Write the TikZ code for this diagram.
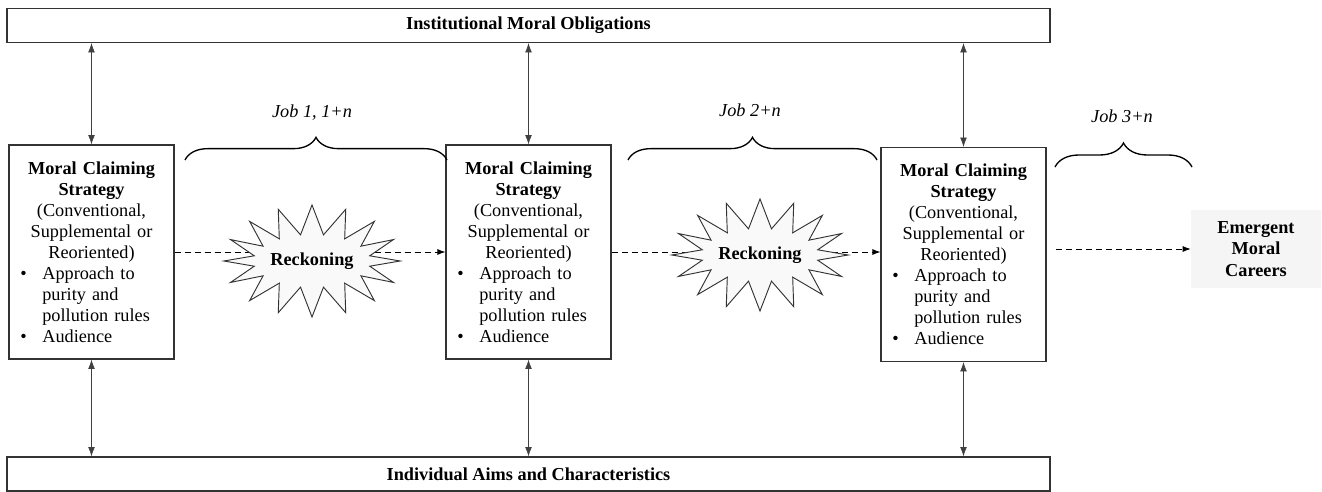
\documentclass[tikz,border=0pt]{standalone}
\usepackage{fontspec}
\setmainfont{Liberation Serif}
\usetikzlibrary{shapes.symbols,decorations.pathreplacing,arrows.meta,calc}
\newcommand\fs{\fontsize{13.7}{15.75}\selectfont}
\newcommand\bitem[1]{\makebox[\linewidth][l]{\makebox[25pt][l]{\hspace{8.5pt}\textbullet}#1}}
\newcommand\iitem[1]{\makebox[\linewidth][l]{\hspace{25pt}#1}}
\newcommand\mcstext{\textbf{Moral Claiming}\\\textbf{Strategy}\\(Conventional,\\Supplemental or\\Reoriented)\\\bitem{Approach to}\\\iitem{purity and}\\\iitem{pollution rules}\\\bitem{Audience}}
\tikzset{
  bar/.style={draw=black!80, line width=0.8pt, minimum width={1043*0.75pt}, minimum height={34*0.75pt}, font=\fs\bfseries, inner sep=0pt},
  mcs/.style={draw=black!80, line width=0.8pt, minimum width={165*0.75pt}, minimum height={214*0.75pt}, text width={165*0.75pt}, inner sep=0pt, align=center, font=\fs},
  burst/.style={shape=starburst, draw=black!80, fill=gray!5, line width=0.7pt, starburst points=16, starburst point height=22pt, random starburst=0, font=\fs\bfseries, minimum width=122pt, minimum height=84pt, inner sep=0pt},
  emerg/.style={fill=gray!8, minimum width={130*0.75pt}, minimum height={78*0.75pt}, align=center, font=\fontsize{13.7}{16.3}\selectfont\bfseries, inner sep=0pt},
  biarrow/.style={{Latex[length=7pt,width=5pt]}-{Latex[length=7pt,width=5pt]}, draw=black!75, line width=0.5pt},
  dasharrow/.style={-{Latex[length=6pt,width=4.5pt]}, dash pattern=on 4.5pt off 3pt, line width=0.7pt},
  jobbrace/.style={decorate, decoration={brace, amplitude=#1}, line width=1pt},
  joblabel/.style={font=\fs\itshape}
}
\begin{document}
\begin{tikzpicture}[x=0.75pt,y=-0.75pt]
\useasboundingbox (0,0) rectangle (1322,492);
% bars
\node[bar] (top) at (528.5,25.5) {Institutional Moral Obligations};
\node[bar] (bot) at (528.5,474) {Individual Aims and Characteristics};
% strategy boxes
\node[mcs] (b1) at (91.5,252) {\mcstext};
\node[mcs] (b2) at (528.5,252) {\mcstext};
\node[mcs] (b3) at (963.5,254.5) {\mcstext};
% emergent
\node[emerg] (em) at (1256,249) {Emergent\\Moral\\Careers};
% vertical arrows
\foreach \b in {b1,b2,b3}{
  \draw[biarrow] (\b.north |- top.south) -- (\b.north);
  \draw[biarrow] (\b.south) -- (\b.south |- bot.north);
}
% dashed arrows
\draw[dasharrow] (b1.east) -- (b2.west);
\draw[dasharrow] (b2.east) -- (b2.east -| b3.west);
\draw[dasharrow, shorten <=7pt] (em.west -| b3.east) -- (em.west);
% starbursts
\node[burst] (r1) at (312,261) {Reckoning};
\node[burst] (r2) at (760,255) {Reckoning};
% braces
\coordinate (j1a) at (185,160); \coordinate (j1b) at (447,160);
\coordinate (j2a) at (628,160); \coordinate (j2b) at (877,160);
\coordinate (j3a) at (1055,167); \coordinate (j3b) at (1192,167);
\draw[jobbrace=17pt] (j1a) -- (j1b);
\draw[jobbrace=17pt] (j2a) -- (j2b);
\draw[jobbrace=18pt] (j3a) -- (j3b);
\node[joblabel] (l1) at (312,113) {Job 1, 1+\textit{n}};
\node[joblabel] (l2) at (750,110) {Job 2+\textit{n}};
\node[joblabel] (l3) at (1122,116) {Job 3+\textit{n}};
\end{tikzpicture}
\end{document}
